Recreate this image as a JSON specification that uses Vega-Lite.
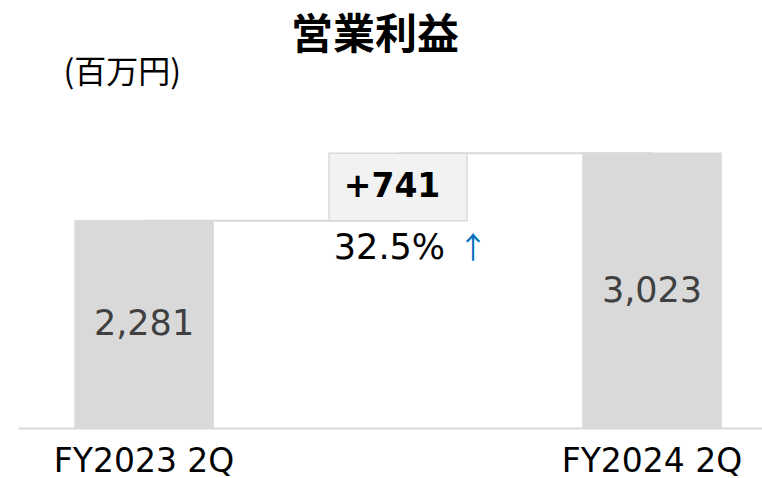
{
  "$schema": "https://vega.github.io/schema/vega-lite/v6.json",
  "autosize": "none",
  "width": 744,
  "height": 318,
  "padding": {"left": 18, "top": 110, "right": 0, "bottom": 50},
  "background": "white",
  "title": {
    "text": "営業利益",
    "font": "Noto Sans CJK JP",
    "fontSize": 42,
    "fontWeight": "bold",
    "color": "#000000",
    "anchor": "middle",
    "frame": "group",
    "dx": -15,
    "dy": 2,
    "offset": 0
  },
  "data": {
    "values": [
      {"cat": "FY2023 2Q", "start": 0, "end": 2281, "label": "2,281", "kind": "total", "pct": ""},
      {"cat": "diff", "start": 2281, "end": 3023, "label": "+741", "kind": "delta", "pct": "32.5%"},
      {"cat": "FY2024 2Q", "start": 0, "end": 3023, "label": "3,023", "kind": "total", "pct": ""}
    ]
  },
  "transform": [{"calculate": "(datum.start + datum.end) / 2", "as": "mid"}],
  "encoding": {
    "x": {
      "field": "cat",
      "type": "nominal",
      "sort": null,
      "scale": {"paddingInner": 0.4567, "paddingOuter": 0.193, "align": 0.582},
      "axis": {
        "title": null,
        "labelExpr": "datum.value == 'diff' ? '' : datum.value",
        "labelAngle": 0,
        "labelFont": "DejaVu Sans",
        "labelFontSize": 33,
        "labelColor": "#000000",
        "labelPadding": 17,
        "labelLimit": 400,
        "labelOverlap": false,
        "ticks": false,
        "domainColor": "#d9d9d9",
        "domainWidth": 2,
        "grid": false
      }
    }
  },
  "layer": [
    {
      "data": {
        "values": [
          {"from": "FY2023 2Q", "to": "diff", "level": 2281},
          {"from": "diff", "to": "FY2024 2Q", "level": 3023}
        ]
      },
      "transform": [],
      "mark": {"type": "rule", "color": "#d9d9d9", "strokeWidth": 2},
      "encoding": {
        "x": {"field": "from", "type": "nominal", "sort": ["FY2023 2Q", "diff", "FY2024 2Q"]},
        "x2": {"field": "to"},
        "y": {"field": "level", "type": "quantitative"}
      }
    },
    {
      "mark": {"type": "bar", "stroke": "#d9d9d9", "strokeWidth": 1.5},
      "encoding": {
        "y": {
          "field": "start",
          "type": "quantitative",
          "scale": {"domain": [0, 3500], "nice": false},
          "axis": {
            "title": "(百万円)",
            "titleFont": "Noto Sans CJK JP",
            "titleFontSize": 32,
            "titleFontWeight": "normal",
            "titleColor": "#000000",
            "titleAngle": 0,
            "titleAlign": "left",
            "titleBaseline": "top",
            "titleX": 45,
            "titleY": -53,
            "labels": false,
            "ticks": false,
            "domain": false,
            "grid": false
          }
        },
        "y2": {"field": "end"},
        "color": {
          "field": "kind",
          "type": "nominal",
          "scale": {"domain": ["total", "delta"], "range": ["#d9d9d9", "#f2f2f2"]},
          "legend": null
        }
      }
    },
    {
      "transform": [{"filter": "datum.kind == 'total'"}],
      "mark": {"type": "text", "font": "DejaVu Sans", "fontSize": 35, "color": "#404040", "baseline": "middle"},
      "encoding": {
        "y": {"field": "mid", "type": "quantitative"},
        "text": {"field": "label"}
      }
    },
    {
      "transform": [{"filter": "datum.kind == 'delta'"}],
      "mark": {"type": "text", "font": "DejaVu Sans", "fontSize": 33, "fontWeight": "bold", "color": "#000000", "baseline": "middle", "dx": -6},
      "encoding": {
        "y": {"field": "mid", "type": "quantitative"},
        "text": {"field": "label"}
      }
    },
    {
      "transform": [{"filter": "datum.kind == 'delta'"}],
      "mark": {"type": "text", "font": "DejaVu Sans", "fontSize": 35, "color": "#000000", "baseline": "middle", "align": "right", "dx": 47, "dy": 27},
      "encoding": {
        "y": {"field": "start", "type": "quantitative"},
        "text": {"field": "pct"}
      }
    },
    {
      "transform": [{"filter": "datum.kind == 'delta'"}],
      "mark": {"type": "text", "font": "Noto Sans CJK JP", "fontSize": 30, "color": "#0070c0", "baseline": "middle", "align": "center", "dx": 75, "dy": 28, "text": "↑"},
      "encoding": {
        "y": {"field": "start", "type": "quantitative"}
      }
    }
  ],
  "config": {"view": {"stroke": null}}
}
